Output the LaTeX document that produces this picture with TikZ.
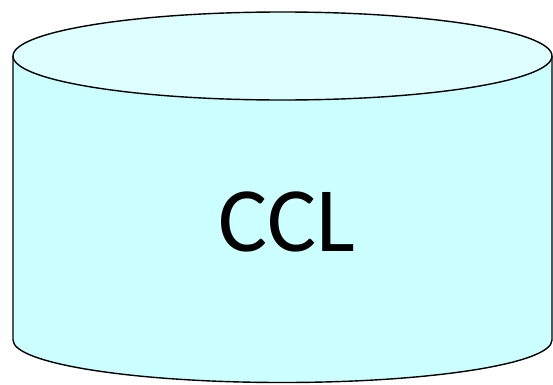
\documentclass[tikz,border=0pt]{standalone}
\usepackage{fontspec}
\setmainfont{Carlito}
\definecolor{cylbody}{HTML}{CCFFFF}
\definecolor{cyltop}{HTML}{DDFFFF}
\tikzset{cylline/.style={draw=black,line width=1.4pt}}
\begin{document}
\begin{tikzpicture}[x=1pt,y=1pt]
\useasboundingbox (0,0) rectangle (553,384);
% body
\fill[cylbody] (13,328) -- (13,44) arc[start angle=180,end angle=360,x radius=269.5,y radius=42.5] -- (552,328) -- cycle;
\draw[cylline] (13,328) -- (13,44) arc[start angle=180,end angle=360,x radius=269.5,y radius=42.5] -- (552,328);
% top
\draw[cylline,fill=cyltop] (282.5,328) ellipse[x radius=269.5,y radius=44];
\node[font=\fontsize{92}{92}\selectfont,inner sep=0pt] (ccl) at (287,162) {CCL};
\end{tikzpicture}
\end{document}
